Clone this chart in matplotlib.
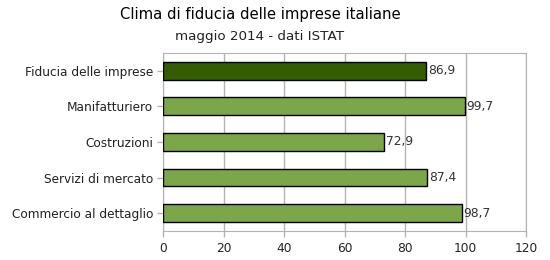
import matplotlib
matplotlib.use("Agg")
import matplotlib.pyplot as plt

categories = ["Fiducia delle imprese", "Manifatturiero", "Costruzioni",
              "Servizi di mercato", "Commercio al dettaglio"]
values = [86.9, 99.7, 72.9, 87.4, 98.7]
labels = ["86,9", "99,7", "72,9", "87,4", "98,7"]
colors = ["#345c00", "#7ba64a", "#7ba64a", "#7ba64a", "#7ba64a"]
xticks = [0, 20, 40, 60, 80, 100, 120]

plt.rcParams['font.family'] = ['DejaVu Sans']
fig = plt.figure(figsize=(5.5, 2.6), dpi=100)
ax = fig.add_axes([163/550, 1-231/260, (526-163)/550, (231-53)/260])

y = list(range(len(categories)))
ax.barh(y, values, height=0.5, color=colors, edgecolor="black", linewidth=1.0, zorder=3)
for yi, v, l in zip(y, values, labels):
    ax.text(v + 0.7, yi, l, va="center", ha="left", fontsize=8.8, color="#333333")

ax.set_ylim(len(categories) - 0.5, -0.5)
ax.set_xlim(0, 120)
ax.set_yticks(y)
ax.set_yticklabels(categories, fontsize=8.7, color="#222222")
ax.set_xticks(xticks)
ax.set_xticklabels([str(t) for t in xticks], fontsize=8.8, color="#222222")
ax.xaxis.grid(True, color="#b3b3b3", linewidth=1, zorder=0)
for s in ax.spines.values():
    s.set_color("#b3b3b3")
ax.tick_params(axis="both", color="#b3b3b3", length=4, width=1)
ax.tick_params(axis="x", pad=4)
ax.tick_params(axis="y", pad=3)

fig.text(260/550, 1-15/260, "Clima di fiducia delle imprese italiane", ha="center", va="center",
         fontsize=10.7, color="black")
fig.text(260/550, 1-37/260, "maggio 2014 - dati ISTAT", ha="center", va="center", fontsize=9.7,
         color="#222222")

fig.savefig("out.png", dpi=100)
